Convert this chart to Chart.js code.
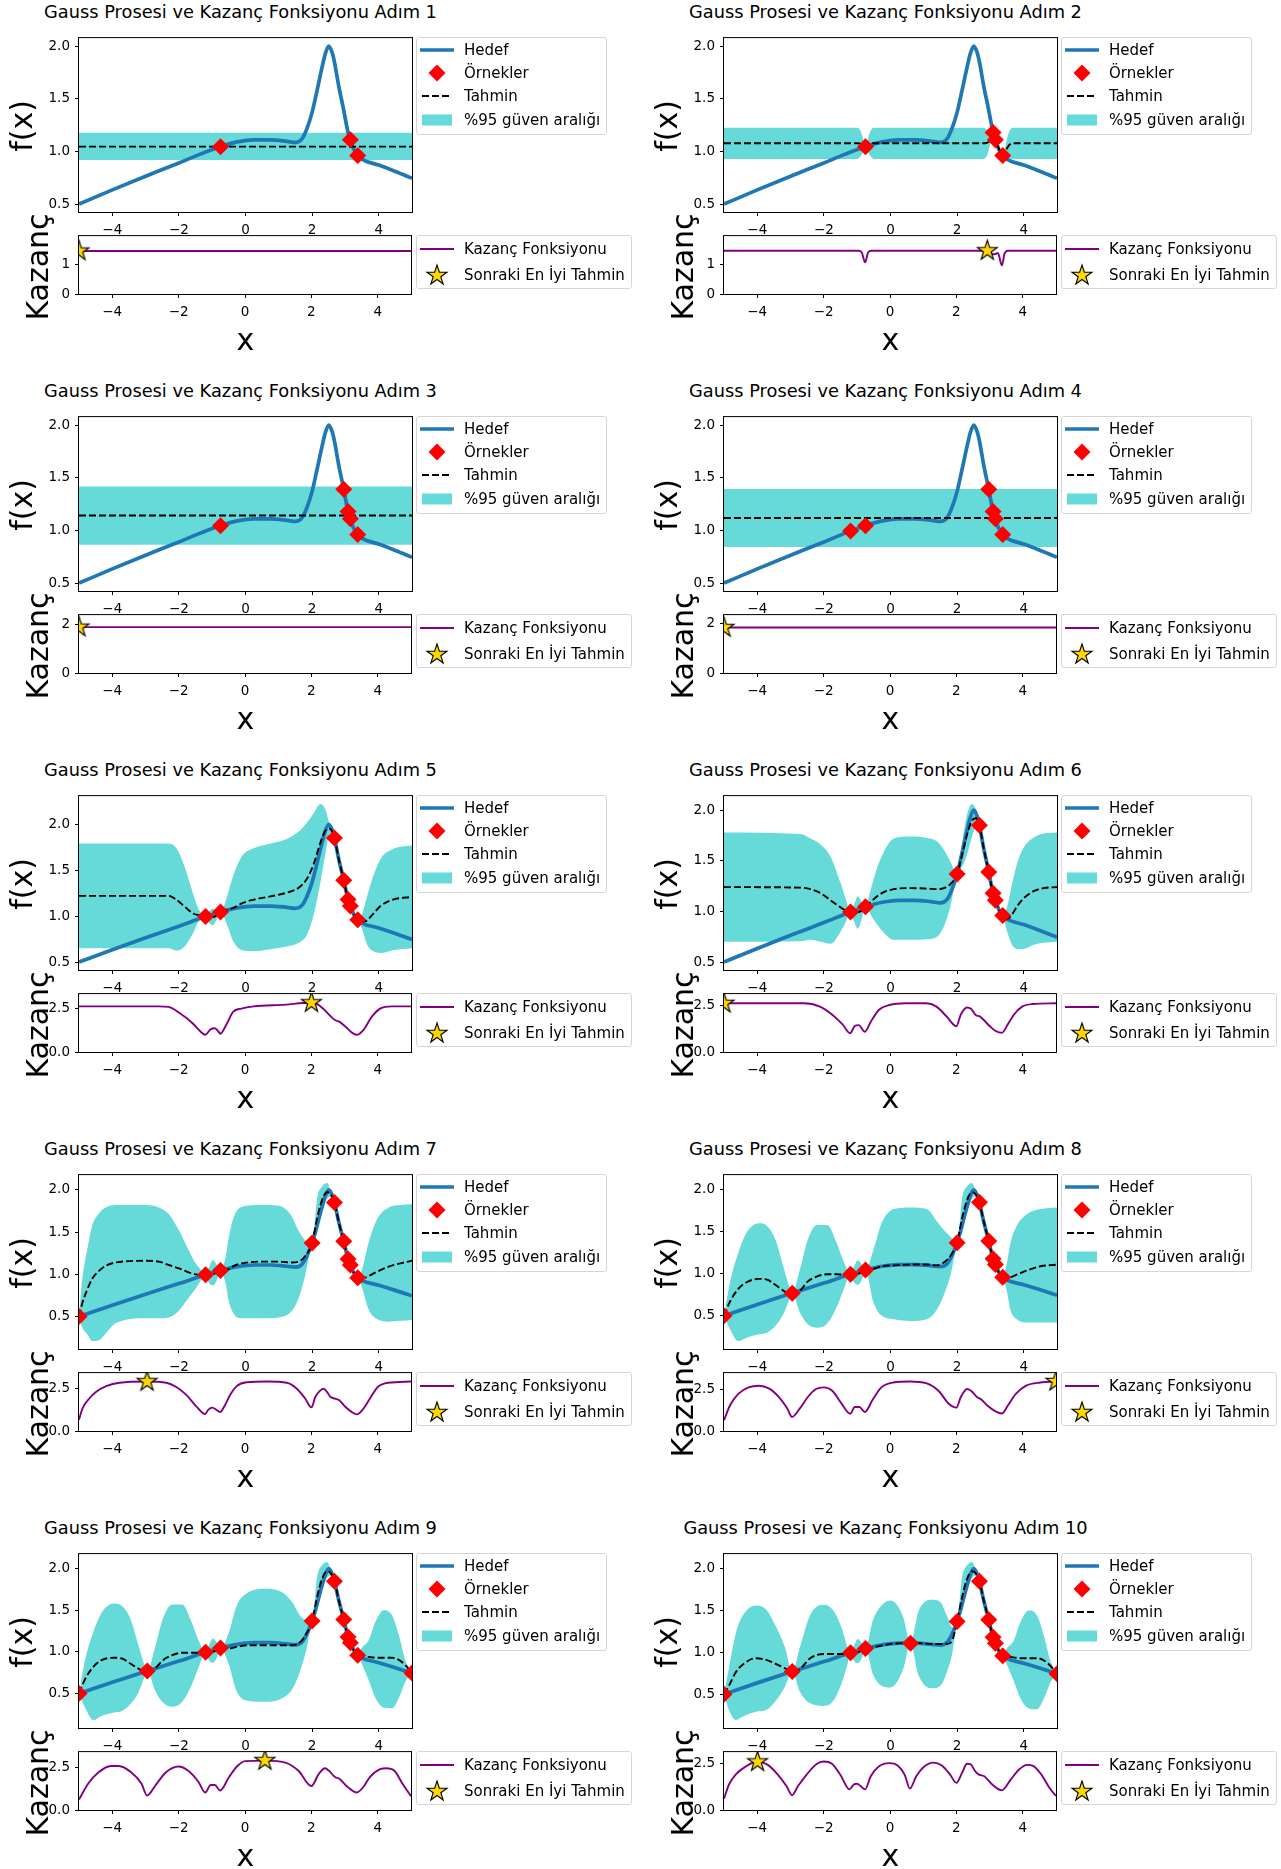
<!DOCTYPE html>
<html lang="tr">
<head>
<meta charset="utf-8">
<title>Gauss Prosesi ve Kazanç Fonksiyonu</title>
<script src="https://cdn.jsdelivr.net/npm/chart.js@4.4.1/dist/chart.umd.min.js"></script>
<style>
  html, body { margin: 0; padding: 0; background: #fff; }
  body { width: 1281px; height: 1869px; position: relative; overflow: hidden; font-family: "DejaVu Sans", sans-serif; color: #000; }
  canvas { position: absolute; }
  .title { position: absolute; width: 520px; height: 24px; line-height: 24px; text-align: center; font-size: 17.8px; white-space: nowrap; }
  .axlabel { position: absolute; font-size: 30px; line-height: 30px; white-space: nowrap; }
  .rot { transform: translate(-50%, -50%) rotate(-90deg); }
  .legend { position: absolute; border: 1px solid #d6d6d6; border-radius: 3px; background: rgba(255,255,255,0.8); font-size: 15px; padding: 0 6px 0 3px; }
  .legend .row { display: flex; align-items: center; white-space: nowrap; }
  .legend svg { flex: none; margin-right: 10px; }
</style>
</head>
<body>
<script>
const FONT = "DejaVu Sans";
const STEP_NO = [1, 2, 3, 4, 5, 6, 7, 8, 9, 10];

const X_TICKS = [-4, -2, 0, 2, 4];
const X_TICK_LABELS = ["\u22124", "\u22122", "0", "2", "4"];
const F_TICKS = [0.5, 1.0, 1.5, 2.0];
const F_TICK_LABELS = ["0.5", "1.0", "1.5", "2.0"];
const ACQ_TICKS = [[0, 1], [0, 1], [0, 2], [0, 2], [0, 2.5], [0, 2.5], [0, 2.5], [0, 2.5], [0, 2.5], [0, 2.5]];
const ACQ_TICK_LABELS = [["0", "1"], ["0", "1"], ["0", "2"], ["0", "2"], ["0.0", "2.5"], ["0.0", "2.5"], ["0.0", "2.5"], ["0.0", "2.5"], ["0.0", "2.5"], ["0.0", "2.5"]];

// Hedef (target function), same in every step
const TARGET_X = [-5, -4, -3, -2, -1.2, -0.75, -0.25, 0.25, 0.75, 1.25, 1.5, 1.7, 1.85, 2.0, 2.15, 2.3, 2.4, 2.5, 2.6, 2.67, 2.8, 2.95, 3.08, 3.15, 3.25, 3.37, 3.5, 4.0, 4.5, 5.0];
const TARGET_Y = [0.50, 0.635, 0.765, 0.89, 0.995, 1.045, 1.09, 1.11, 1.11, 1.095, 1.085, 1.12, 1.22, 1.37, 1.58, 1.80, 1.93, 2.0, 1.94, 1.85, 1.62, 1.39, 1.18, 1.11, 1.02, 0.96, 0.925, 0.87, 0.81, 0.745];

// Örnekler per step
const SAMPLE_X = [
  [-0.75, 3.15, 3.37],
  [-0.75, 3.08, 3.15, 3.37],
  [-0.75, 2.95, 3.08, 3.15, 3.37],
  [-1.2, -0.75, 2.95, 3.08, 3.15, 3.37],
  [-1.2, -0.75, 2.67, 2.95, 3.08, 3.15, 3.37],
  [-1.2, -0.75, 2.0, 2.67, 2.95, 3.08, 3.15, 3.37],
  [-5, -1.2, -0.75, 2.0, 2.67, 2.95, 3.08, 3.15, 3.37],
  [-5, -2.95, -1.2, -0.75, 2.0, 2.67, 2.95, 3.08, 3.15, 3.37],
  [-5, -2.95, -1.2, -0.75, 2.0, 2.67, 2.95, 3.08, 3.15, 3.37, 5],
  [-5, -2.95, -1.2, -0.75, 0.6, 2.0, 2.67, 2.95, 3.08, 3.15, 3.37, 5]
];
const SAMPLE_Y = [
  [1.045, 1.11, 0.96],
  [1.045, 1.18, 1.11, 0.96],
  [1.045, 1.39, 1.18, 1.11, 0.96],
  [0.995, 1.045, 1.39, 1.18, 1.11, 0.96],
  [0.995, 1.045, 1.85, 1.39, 1.18, 1.11, 0.96],
  [0.995, 1.045, 1.37, 1.85, 1.39, 1.18, 1.11, 0.96],
  [0.5, 0.995, 1.045, 1.37, 1.85, 1.39, 1.18, 1.11, 0.96],
  [0.5, 0.77, 0.995, 1.045, 1.37, 1.85, 1.39, 1.18, 1.11, 0.96],
  [0.5, 0.77, 0.995, 1.045, 1.37, 1.85, 1.39, 1.18, 1.11, 0.96, 0.745],
  [0.5, 0.77, 0.995, 1.045, 1.11, 1.37, 1.85, 1.39, 1.18, 1.11, 0.96, 0.745]
];

// Gauss prosesi: x grid, Tahmin (mean), %95 band upper / lower
const GP_X = [
  [-5, 5],
  [-5, -1.0, -0.9, -0.82, -0.75, -0.68, -0.6, -0.5, 2.75, 2.88, 2.97, 3.03, 3.08, 3.15, 3.25, 3.37, 3.44, 3.5, 3.58, 3.7, 5],
  [-5, 5],
  [-5, 5],
  [-5, -2.6, -2.3, -2.08, -1.83, -1.58, -1.4, -1.2, -1.1, -0.98, -0.86, -0.75, -0.55, -0.36, -0.11, 0.26, 0.75, 1.24, 1.6, 1.85, 2.05, 2.25, 2.4, 2.53, 2.67, 2.8, 2.95, 3.08, 3.15, 3.25, 3.37, 3.5, 3.64, 3.82, 4.07, 4.43, 5],
  [-5, -2.7, -2.4, -2.1, -1.8, -1.5, -1.35, -1.2, -1.1, -0.98, -0.86, -0.75, -0.6, -0.4, -0.2, 0.1, 0.6, 1.1, 1.4, 1.6, 1.8, 2.0, 2.15, 2.3, 2.45, 2.57, 2.67, 2.8, 2.95, 3.08, 3.15, 3.25, 3.37, 3.5, 3.65, 3.8, 4.0, 4.3, 4.6, 5],
  [-5, -4.9, -4.75, -4.6, -4.4, -4.2, -3.9, -3.0, -2.6, -2.3, -2.0, -1.75, -1.5, -1.35, -1.2, -1.1, -0.98, -0.86, -0.75, -0.6, -0.5, -0.35, -0.1, 0.45, 1.0, 1.35, 1.6, 1.8, 2.0, 2.15, 2.3, 2.45, 2.57, 2.67, 2.8, 2.95, 3.08, 3.15, 3.25, 3.37, 3.5, 3.7, 3.95, 4.3, 4.65, 5],
  [-5, -4.82, -4.57, -4.32, -3.95, -3.71, -3.46, -3.22, -3.05, -2.95, -2.72, -2.48, -2.2, -1.9, -1.62, -1.4, -1.2, -1.1, -0.98, -0.86, -0.75, -0.51, -0.26, 0.1, 0.6, 1.09, 1.4, 1.65, 1.83, 2.0, 2.15, 2.3, 2.45, 2.57, 2.67, 2.8, 2.95, 3.08, 3.15, 3.25, 3.37, 3.49, 3.61, 3.79, 4.1, 4.5, 5],
  [-5, -4.82, -4.57, -4.32, -3.95, -3.71, -3.46, -3.22, -3.05, -2.95, -2.72, -2.48, -2.2, -1.9, -1.62, -1.4, -1.2, -1.1, -0.98, -0.86, -0.75, -0.51, -0.26, 0.1, 0.6, 1.09, 1.4, 1.65, 1.83, 2.0, 2.15, 2.3, 2.45, 2.57, 2.67, 2.8, 2.95, 3.08, 3.15, 3.25, 3.37, 3.5, 3.7, 3.9, 4.15, 4.4, 4.62, 4.8, 5],
  [-5, -4.85, -4.65, -4.45, -4.04, -3.73, -3.43, -3.17, -2.95, -2.72, -2.41, -2.0, -1.7, -1.44, -1.29, -1.2, -1.1, -0.98, -0.86, -0.75, -0.53, -0.27, 0.0, 0.18, 0.39, 0.6, 0.84, 1.25, 1.5, 1.7, 1.86, 2.0, 2.15, 2.3, 2.45, 2.57, 2.67, 2.8, 2.95, 3.08, 3.15, 3.25, 3.37, 3.5, 3.7, 3.9, 4.15, 4.4, 4.62, 4.8, 5]
];
const GP_MEAN = [
  [1.045, 1.045],
  [1.077, 1.077, 1.074, 1.06, 1.045, 1.06, 1.074, 1.077, 1.077, 1.08, 1.10, 1.14, 1.18, 1.11, 1.03, 0.96, 0.99, 1.03, 1.065, 1.077, 1.077],
  [1.141, 1.141],
  [1.118, 1.118],
  [1.22, 1.22, 1.22, 1.18, 1.105, 1.03, 1.01, 0.995, 0.99, 0.99, 1.01, 1.045, 1.07, 1.09, 1.14, 1.18, 1.215, 1.255, 1.31, 1.41, 1.57, 1.80, 1.93, 1.95, 1.85, 1.62, 1.39, 1.18, 1.11, 1.02, 0.96, 0.94, 0.95, 1.02, 1.115, 1.18, 1.21],
  [1.24, 1.235, 1.22, 1.18, 1.11, 1.04, 1.01, 0.995, 0.985, 0.99, 1.01, 1.045, 1.09, 1.15, 1.19, 1.22, 1.23, 1.225, 1.22, 1.23, 1.27, 1.37, 1.56, 1.76, 1.90, 1.92, 1.85, 1.62, 1.39, 1.18, 1.11, 1.02, 0.96, 0.925, 0.97, 1.05, 1.13, 1.20, 1.23, 1.24],
  [0.5, 0.66, 0.82, 0.95, 1.04, 1.10, 1.14, 1.16, 1.15, 1.11, 1.07, 1.03, 1.0, 0.99, 0.995, 0.99, 1.0, 1.02, 1.045, 1.05, 1.06, 1.10, 1.13, 1.15, 1.15, 1.14, 1.15, 1.22, 1.37, 1.66, 1.88, 1.97, 1.94, 1.85, 1.62, 1.39, 1.18, 1.11, 1.02, 0.96, 0.95, 0.98, 1.03, 1.09, 1.13, 1.16],
  [0.5, 0.67, 0.82, 0.90, 0.94, 0.93, 0.87, 0.80, 0.77, 0.77, 0.80, 0.91, 0.97, 0.995, 0.995, 0.99, 0.995, 0.99, 1.0, 1.02, 1.045, 1.06, 1.09, 1.10, 1.11, 1.11, 1.10, 1.15, 1.23, 1.37, 1.66, 1.88, 1.97, 1.94, 1.85, 1.62, 1.39, 1.18, 1.11, 1.02, 0.96, 0.95, 0.96, 0.99, 1.04, 1.09, 1.11],
  [0.5, 0.67, 0.82, 0.90, 0.93, 0.92, 0.86, 0.80, 0.77, 0.77, 0.80, 0.90, 0.96, 0.99, 0.99, 0.99, 0.995, 0.99, 1.0, 1.02, 1.045, 1.04, 1.06, 1.08, 1.08, 1.08, 1.08, 1.12, 1.22, 1.37, 1.66, 1.88, 1.97, 1.94, 1.85, 1.62, 1.39, 1.18, 1.11, 1.02, 0.96, 0.95, 0.94, 0.93, 0.93, 0.93, 0.90, 0.84, 0.745],
  [0.5, 0.60, 0.76, 0.85, 0.93, 0.91, 0.86, 0.81, 0.77, 0.80, 0.93, 0.98, 0.98, 0.98, 0.99, 0.995, 0.99, 1.0, 1.02, 1.045, 1.06, 1.08, 1.10, 1.105, 1.11, 1.11, 1.11, 1.10, 1.10, 1.10, 1.15, 1.37, 1.66, 1.88, 1.97, 1.94, 1.85, 1.62, 1.39, 1.18, 1.11, 1.02, 0.96, 0.95, 0.94, 0.93, 0.93, 0.93, 0.90, 0.84, 0.745]
];
const GP_HI = [
  [1.177, 1.177],
  [1.225, 1.225, 1.194, 1.12, 1.045, 1.12, 1.194, 1.225, 1.225, 1.21, 1.16, 1.15, 1.18, 1.11, 1.04, 0.96, 1.03, 1.12, 1.20, 1.225, 1.225],
  [1.417, 1.417],
  [1.392, 1.392],
  [1.79, 1.79, 1.79, 1.74, 1.54, 1.25, 1.07, 0.995, 1.05, 1.08, 1.05, 1.045, 1.22, 1.45, 1.65, 1.74, 1.79, 1.84, 1.92, 2.02, 2.12, 2.22, 2.16, 1.99, 1.85, 1.64, 1.39, 1.18, 1.11, 1.04, 0.96, 1.02, 1.20, 1.42, 1.63, 1.73, 1.77],
  [1.78, 1.765, 1.72, 1.66, 1.54, 1.28, 1.13, 0.995, 1.065, 1.15, 1.09, 1.045, 1.21, 1.43, 1.59, 1.72, 1.74, 1.725, 1.69, 1.61, 1.49, 1.37, 1.68, 1.96, 2.06, 2.0, 1.85, 1.65, 1.39, 1.18, 1.11, 1.04, 0.96, 1.045, 1.27, 1.47, 1.63, 1.73, 1.77, 1.78],
  [0.5, 0.95, 1.30, 1.58, 1.72, 1.79, 1.82, 1.82, 1.79, 1.71, 1.52, 1.32, 1.13, 1.06, 0.995, 1.08, 1.17, 1.11, 1.045, 1.20, 1.44, 1.68, 1.80, 1.82, 1.81, 1.71, 1.51, 1.40, 1.37, 1.90, 2.04, 2.08, 1.97, 1.85, 1.65, 1.39, 1.18, 1.11, 1.04, 0.96, 1.06, 1.38, 1.65, 1.79, 1.82, 1.83],
  [0.5, 0.90, 1.25, 1.49, 1.60, 1.57, 1.41, 1.09, 0.86, 0.77, 1.05, 1.41, 1.58, 1.58, 1.37, 1.14, 0.995, 1.08, 1.16, 1.11, 1.045, 1.29, 1.61, 1.77, 1.79, 1.77, 1.62, 1.50, 1.43, 1.37, 1.90, 2.04, 2.08, 1.97, 1.85, 1.65, 1.39, 1.18, 1.11, 1.04, 0.96, 1.12, 1.38, 1.57, 1.71, 1.77, 1.79],
  [0.5, 0.90, 1.24, 1.47, 1.58, 1.55, 1.40, 1.09, 0.86, 0.77, 1.05, 1.40, 1.57, 1.57, 1.36, 1.13, 0.995, 1.08, 1.16, 1.11, 1.045, 1.22, 1.56, 1.72, 1.76, 1.72, 1.60, 1.43, 1.38, 1.37, 1.90, 2.04, 2.08, 1.97, 1.85, 1.65, 1.39, 1.18, 1.11, 1.04, 0.96, 1.05, 1.14, 1.36, 1.50, 1.44, 1.18, 0.90, 0.745],
  [0.5, 0.82, 1.22, 1.43, 1.56, 1.51, 1.30, 1.06, 0.77, 1.06, 1.45, 1.57, 1.49, 1.26, 1.06, 0.995, 1.08, 1.16, 1.11, 1.045, 1.38, 1.56, 1.62, 1.575, 1.41, 1.11, 1.49, 1.63, 1.60, 1.43, 1.30, 1.37, 1.90, 2.04, 2.08, 1.97, 1.85, 1.65, 1.39, 1.18, 1.11, 1.04, 0.96, 1.05, 1.14, 1.36, 1.50, 1.44, 1.18, 0.90, 0.745]
];
const GP_LO = [
  [0.918, 0.918],
  [0.929, 0.929, 0.954, 1.00, 1.045, 1.00, 0.954, 0.929, 0.929, 0.95, 1.04, 1.13, 1.18, 1.11, 1.02, 0.96, 0.95, 0.94, 0.93, 0.929, 0.929],
  [0.865, 0.865],
  [0.843, 0.843],
  [0.65, 0.65, 0.65, 0.625, 0.67, 0.81, 0.95, 0.995, 0.93, 0.90, 0.97, 1.045, 0.90, 0.72, 0.63, 0.62, 0.64, 0.67, 0.71, 0.80, 1.02, 1.37, 1.68, 1.90, 1.85, 1.60, 1.39, 1.18, 1.11, 1.00, 0.96, 0.86, 0.70, 0.62, 0.60, 0.63, 0.65],
  [0.70, 0.705, 0.72, 0.70, 0.68, 0.80, 0.89, 0.995, 0.905, 0.83, 0.93, 1.045, 0.97, 0.87, 0.79, 0.72, 0.72, 0.725, 0.75, 0.85, 1.05, 1.37, 1.44, 1.56, 1.74, 1.84, 1.85, 1.59, 1.39, 1.18, 1.11, 1.00, 0.96, 0.805, 0.67, 0.63, 0.63, 0.67, 0.69, 0.70],
  [0.5, 0.37, 0.29, 0.21, 0.22, 0.30, 0.42, 0.48, 0.48, 0.49, 0.57, 0.70, 0.83, 0.92, 0.995, 0.90, 0.87, 0.93, 1.045, 0.90, 0.68, 0.53, 0.48, 0.48, 0.49, 0.55, 0.72, 1.00, 1.37, 1.48, 1.74, 1.89, 1.92, 1.85, 1.59, 1.39, 1.18, 1.11, 1.00, 0.96, 0.84, 0.58, 0.47, 0.44, 0.45, 0.46],
  [0.5, 0.34, 0.20, 0.24, 0.28, 0.30, 0.38, 0.52, 0.68, 0.77, 0.54, 0.40, 0.36, 0.41, 0.60, 0.82, 0.995, 0.90, 0.87, 0.93, 1.045, 0.66, 0.50, 0.46, 0.44, 0.46, 0.58, 0.80, 1.03, 1.37, 1.48, 1.74, 1.89, 1.92, 1.85, 1.59, 1.39, 1.18, 1.11, 1.00, 0.96, 0.80, 0.56, 0.46, 0.42, 0.42, 0.42],
  [0.5, 0.33, 0.18, 0.23, 0.27, 0.29, 0.37, 0.51, 0.68, 0.77, 0.54, 0.39, 0.34, 0.40, 0.60, 0.82, 0.995, 0.90, 0.87, 0.93, 1.045, 0.86, 0.52, 0.41, 0.40, 0.44, 0.55, 0.78, 1.03, 1.37, 1.48, 1.74, 1.89, 1.92, 1.85, 1.59, 1.39, 1.18, 1.11, 1.00, 0.96, 0.85, 0.66, 0.45, 0.33, 0.32, 0.46, 0.64, 0.745],
  [0.5, 0.31, 0.19, 0.23, 0.29, 0.31, 0.43, 0.59, 0.77, 0.53, 0.39, 0.36, 0.43, 0.66, 0.86, 0.995, 0.90, 0.87, 0.93, 1.045, 0.74, 0.60, 0.58, 0.635, 0.81, 1.11, 0.73, 0.57, 0.60, 0.77, 1.0, 1.37, 1.48, 1.74, 1.89, 1.92, 1.85, 1.59, 1.39, 1.18, 1.11, 1.00, 0.96, 0.85, 0.66, 0.45, 0.33, 0.32, 0.46, 0.64, 0.745]
];

// Kazanç fonksiyonu per step
const ACQ_X = [
  [-5, 5],
  [-5, -0.95, -0.85, -0.75, -0.66, -0.56, 2.93, 3.02, 3.08, 3.15, 3.25, 3.37, 3.45, 3.55, 5],
  [-5, 5],
  [-5, 5],
  [-5, -2.6, -2.3, -1.95, -1.58, -1.34, -1.2, -1.03, -0.91, -0.8, -0.75, -0.54, -0.36, -0.11, 0.26, 1.24, 1.73, 2.0, 2.2, 2.35, 2.59, 2.71, 2.84, 3.02, 3.21, 3.37, 3.57, 3.82, 4.07, 4.43, 5],
  [-5, -2.6, -2.11, -1.74, -1.43, -1.2, -1.06, -0.94, -0.76, -0.57, -0.33, -0.02, 0.47, 1.09, 1.4, 1.7, 2.0, 2.13, 2.32, 2.44, 2.59, 2.69, 2.81, 3.0, 3.18, 3.37, 3.55, 3.73, 3.98, 4.29, 5],
  [-5, -4.89, -4.69, -4.49, -4.18, -3.78, -2.95, -2.37, -2.07, -1.76, -1.46, -1.2, -1.11, -0.98, -0.86, -0.75, -0.6, -0.45, -0.25, 0.05, 0.66, 1.26, 1.56, 1.81, 2.0, 2.12, 2.27, 2.37, 2.47, 2.57, 2.71, 2.84, 3.02, 3.21, 3.37, 3.57, 3.76, 4.0, 4.31, 5],
  [-5, -4.82, -4.57, -4.26, -3.95, -3.65, -3.34, -3.09, -2.95, -2.72, -2.48, -2.23, -1.99, -1.74, -1.49, -1.2, -1.06, -0.92, -0.76, -0.51, -0.26, 0.1, 0.6, 1.09, 1.46, 1.77, 2.0, 2.13, 2.32, 2.44, 2.63, 2.75, 2.93, 3.18, 3.37, 3.55, 3.79, 4.1, 4.53, 5],
  [-5, -4.72, -4.41, -4.04, -3.8, -3.43, -3.12, -2.95, -2.69, -2.38, -2.01, -1.71, -1.4, -1.2, -1.03, -0.91, -0.75, -0.48, -0.23, 0.01, 0.6, 1.24, 1.61, 2.0, 2.22, 2.41, 2.53, 2.71, 2.84, 3.08, 3.37, 3.57, 3.76, 4.07, 4.25, 4.5, 4.74, 5],
  [-5, -4.85, -4.65, -4.34, -3.99, -3.68, -3.38, -3.12, -2.95, -2.77, -2.51, -2.21, -2.0, -1.75, -1.5, -1.22, -1.09, -0.99, -0.89, -0.75, -0.58, -0.33, -0.02, 0.23, 0.44, 0.6, 0.79, 1.0, 1.3, 1.56, 1.81, 2.0, 2.17, 2.32, 2.42, 2.57, 2.68, 2.84, 3.08, 3.37, 3.64, 3.88, 4.13, 4.31, 4.56, 4.8, 5]
];
const ACQ_Y = [
  [1.435, 1.435],
  [1.48, 1.48, 1.42, 1.08, 1.42, 1.48, 1.48, 1.45, 1.36, 1.36, 1.40, 0.98, 1.38, 1.48, 1.48],
  [1.906, 1.906],
  [1.83, 1.83],
  [2.65, 2.65, 2.62, 2.23, 1.67, 1.19, 1.0, 1.33, 1.38, 1.19, 1.06, 1.67, 2.33, 2.52, 2.65, 2.75, 2.84, 2.86, 2.75, 2.52, 2.05, 1.86, 1.76, 1.48, 1.14, 1.0, 1.29, 2.05, 2.52, 2.65, 2.65],
  [2.64, 2.64, 2.46, 2.02, 1.5, 1.02, 1.41, 1.46, 1.1, 1.67, 2.29, 2.55, 2.64, 2.64, 2.46, 1.94, 1.40, 2.02, 2.41, 2.34, 1.99, 1.94, 1.76, 1.41, 1.14, 1.04, 1.5, 2.02, 2.46, 2.6, 2.64],
  [0.67, 1.35, 1.92, 2.31, 2.65, 2.85, 2.92, 2.85, 2.6, 2.12, 1.44, 1.0, 1.25, 1.38, 1.25, 1.12, 1.54, 2.12, 2.65, 2.88, 2.92, 2.85, 2.5, 1.92, 1.40, 2.02, 2.40, 2.5, 2.31, 2.02, 1.91, 1.82, 1.43, 1.13, 0.98, 1.33, 1.91, 2.6, 2.85, 2.92],
  [0.64, 1.52, 2.21, 2.6, 2.7, 2.54, 2.01, 1.33, 0.84, 1.33, 2.01, 2.5, 2.6, 2.4, 1.72, 1.03, 1.43, 1.43, 1.13, 1.91, 2.6, 2.89, 2.95, 2.85, 2.4, 1.62, 1.39, 2.01, 2.5, 2.4, 2.01, 1.88, 1.52, 1.17, 1.04, 1.52, 2.21, 2.7, 2.89, 2.95],
  [0.62, 1.56, 2.22, 2.59, 2.59, 2.22, 1.56, 0.85, 1.47, 2.22, 2.56, 2.31, 1.65, 1.03, 1.47, 1.47, 1.15, 1.94, 2.59, 2.88, 2.91, 2.78, 2.31, 1.41, 2.12, 2.46, 2.31, 1.94, 1.84, 1.37, 1.03, 1.37, 1.94, 2.41, 2.46, 2.31, 1.56, 0.81],
  [0.6, 1.36, 1.89, 2.33, 2.59, 2.41, 1.89, 1.28, 0.79, 1.28, 1.89, 2.45, 2.59, 2.47, 1.89, 1.10, 1.36, 1.40, 1.28, 1.10, 1.80, 2.33, 2.50, 2.38, 1.89, 1.15, 1.80, 2.27, 2.53, 2.38, 1.89, 1.45, 1.98, 2.47, 2.45, 2.06, 1.89, 1.80, 1.36, 1.05, 1.63, 2.15, 2.41, 2.36, 1.89, 1.19, 0.75]
];

// Sonraki en iyi tahmin (star)
const NEXT_X = [-5, 2.93, -5, -5, 2.0, -5, -2.95, 5, 0.6, -3.99];
const NEXT_Y = [1.435, 1.48, 1.906, 1.83, 2.86, 2.64, 2.92, 2.95, 2.91, 2.57];

// page layout (px)
const COL_LEFT = [79, 724];
const ROW_TOP = [37, 416, 795, 1174, 1553];
const AX_W = 333, TOP_H = 175, BOT_GAP = 198, BOT_H = 59;

const BLUE = "#1f77b4", BAND = "rgba(0,191,191,0.6)", PURPLE = "#800080", GOLD = "#ffd700";

Chart.defaults.font.family = FONT;

const pts = (xs, ys) => xs.map((x, k) => ({ x: x, y: ys[k] }));

function starPath(r, cx, cy) {
  const out = [];
  for (let k = 0; k < 10; k++) {
    const rr = k % 2 ? r * 0.382 : r;
    const a = -Math.PI / 2 + k * Math.PI / 5;
    out.push([cx + rr * Math.cos(a), cy + rr * Math.sin(a)]);
  }
  return out;
}

function starImage(r) {
  const c = document.createElement("canvas");
  const s = Math.ceil(2 * r + 4);
  c.width = s; c.height = s;
  const ctx = c.getContext("2d");
  ctx.beginPath();
  starPath(r, s / 2, s / 2).forEach(p => ctx.lineTo(p[0], p[1]));
  ctx.closePath();
  ctx.fillStyle = GOLD; ctx.fill();
  ctx.lineWidth = 1.1; ctx.strokeStyle = "#000"; ctx.stroke();
  return c;
}
const STAR = starImage(10.5);

const axesFrame = {
  id: "axesFrame",
  beforeDraw(chart) {
    const a = chart.chartArea, ctx = chart.ctx;
    ctx.save();
    ctx.fillStyle = "#fff";
    ctx.fillRect(a.left, a.top, a.right - a.left, a.bottom - a.top);
    ctx.restore();
  },
  afterDraw(chart) {
    const a = chart.chartArea, ctx = chart.ctx;
    ctx.save();
    ctx.strokeStyle = "#000"; ctx.lineWidth = 1;
    ctx.strokeRect(a.left - 0.5, a.top - 0.5, a.right - a.left + 1, a.bottom - a.top + 1);
    ctx.restore();
  }
};

function axis(min, max, values, labels, isX) {
  return {
    type: "linear", min: min, max: max,
    afterBuildTicks: s => { s.ticks = values.map(v => ({ value: v })); },
    ticks: {
      autoSkip: false, maxRotation: 0, padding: isX ? 6 : 5, color: "#000",
      font: { family: FONT, size: 13.5 },
      callback: (v, k) => labels[k]
    },
    grid: { drawOnChartArea: false, drawTicks: true, tickLength: 4, tickWidth: 1, tickColor: "#000" },
    border: { display: false },
    afterFit: s => { if (isX) s.height = 30; else s.width = 60; }
  };
}

function makeCanvas(left, top, w, h) {
  const c = document.createElement("canvas");
  c.width = w; c.height = h;
  c.style.left = left + "px"; c.style.top = top + "px";
  c.style.width = w + "px"; c.style.height = h + "px";
  document.body.appendChild(c);
  return c;
}

function addText(cls, text, css) {
  const d = document.createElement("div");
  d.className = cls;
  d.textContent = text;
  Object.assign(d.style, css);
  document.body.appendChild(d);
}

const H_LINE = (color, w) => `<svg width="34" height="20"><line x1="0" y1="10" x2="34" y2="10" stroke="${color}" stroke-width="${w}"/></svg>`;
const H_DIAMOND = `<svg width="34" height="20"><polygon points="17,1.5 25.5,10 17,18.5 8.5,10" fill="red"/></svg>`;
const H_DASH = `<svg width="34" height="20"><line x1="2" y1="10" x2="32" y2="10" stroke="#000" stroke-width="1.9" stroke-dasharray="7 3"/></svg>`;
const H_PATCH = `<svg width="34" height="20"><rect x="2" y="4.5" width="30" height="11" fill="${BAND}"/></svg>`;
const H_STAR = `<svg width="34" height="24"><polygon points="${starPath(10.5, 17, 12.5).map(p => p[0].toFixed(2) + "," + p[1].toFixed(2)).join(" ")}" fill="${GOLD}" stroke="#000" stroke-width="1.1"/></svg>`;

function legendBox(left, top, rowH, padBottom, items) {
  const box = document.createElement("div");
  box.className = "legend";
  box.style.left = left + "px"; box.style.top = top + "px";
  box.style.paddingBottom = padBottom + "px";
  items.forEach(it => {
    const row = document.createElement("div");
    row.className = "row";
    row.style.height = rowH + "px";
    row.innerHTML = it[0] + "<span>" + it[1] + "</span>";
    box.appendChild(row);
  });
  document.body.appendChild(box);
}

function drawStep(i) {
  const col = i % 2, row = Math.floor(i / 2);
  const axL = COL_LEFT[col], axT = ROW_TOP[row], bT = axT + BOT_GAP;

  const allY = TARGET_Y.concat(GP_HI[i], GP_LO[i], GP_MEAN[i], SAMPLE_Y[i]);
  const yLo = Math.min(...allY), yHi = Math.max(...allY), pad = (yHi - yLo) * 0.05;

  const top = makeCanvas(axL - 60, axT - 12, 60 + AX_W + 10, 12 + TOP_H + 30);
  new Chart(top, {
    type: "line",
    data: {
      datasets: [
        { label: "Örnekler", data: pts(SAMPLE_X[i], SAMPLE_Y[i]), showLine: false, pointStyle: "rectRot",
          pointRadius: 8.5, pointBackgroundColor: "red", pointBorderWidth: 0, borderColor: "red", clip: 0 },
        { label: "Tahmin", data: pts(GP_X[i], GP_MEAN[i]), borderColor: "#000", borderWidth: 1.9, borderDash: [7, 3],
          pointRadius: 0, cubicInterpolationMode: "monotone", fill: false, clip: 0 },
        { label: "Hedef", data: pts(TARGET_X, TARGET_Y), borderColor: BLUE, borderWidth: 3.7,
          pointRadius: 0, cubicInterpolationMode: "monotone", fill: false, clip: 0 },
        { label: "%95 güven aralığı", data: pts(GP_X[i], GP_HI[i]), borderColor: "transparent", borderWidth: 0,
          pointRadius: 0, cubicInterpolationMode: "monotone", fill: "+1", backgroundColor: BAND, clip: 0 },
        { label: "alt", data: pts(GP_X[i], GP_LO[i]), borderColor: "transparent", borderWidth: 0,
          pointRadius: 0, cubicInterpolationMode: "monotone", fill: false, clip: 0 }
      ]
    },
    options: {
      responsive: false, animation: false, devicePixelRatio: 1, events: [],
      layout: { padding: { left: 0, top: 12, right: 10, bottom: 0 } },
      scales: {
        x: axis(-5, 5, X_TICKS, X_TICK_LABELS, true),
        y: axis(yLo - pad, yHi + pad, F_TICKS, F_TICK_LABELS, false)
      },
      plugins: { legend: { display: false }, tooltip: { enabled: false } }
    },
    plugins: [axesFrame]
  });

  const acqTop = Math.max(...ACQ_Y[i]) + 0.5;
  const bot = makeCanvas(axL - 60, bT - 12, 60 + AX_W + 10, 12 + BOT_H + 30);
  new Chart(bot, {
    type: "line",
    data: {
      datasets: [
        { label: "Sonraki En İyi Tahmin", data: [{ x: NEXT_X[i], y: NEXT_Y[i] }], showLine: false,
          pointStyle: STAR, pointRadius: 10, clip: 0 },
        { label: "Kazanç Fonksiyonu", data: pts(ACQ_X[i], ACQ_Y[i]), borderColor: PURPLE, borderWidth: 1.9,
          pointRadius: 0, cubicInterpolationMode: "monotone", fill: false, clip: 0 }
      ]
    },
    options: {
      responsive: false, animation: false, devicePixelRatio: 1, events: [],
      layout: { padding: { left: 0, top: 12, right: 10, bottom: 0 } },
      scales: {
        x: axis(-5, 5, X_TICKS, X_TICK_LABELS, true),
        y: axis(0, acqTop, ACQ_TICKS[i], ACQ_TICK_LABELS[i], false)
      },
      plugins: { legend: { display: false }, tooltip: { enabled: false } }
    },
    plugins: [axesFrame]
  });

  addText("title", "Gauss Prosesi ve Kazanç Fonksiyonu Adım " + STEP_NO[i], { left: (axL + AX_W / 2 - 5 - 260) + "px", top: (axT - 37) + "px" });
  addText("axlabel rot", "f(x)", { left: (axL - 57.5) + "px", top: (axT + 89) + "px" });
  addText("axlabel rot", "Kazanç", { left: (axL - 41) + "px", top: (bT + 32) + "px" });
  addText("axlabel", "x", { left: (axL + AX_W / 2) + "px", top: (axT + 287.5) + "px", transform: "translateX(-50%)" });

  legendBox(axL + AX_W + 4, axT, 23.3, 2.8, [
    [H_LINE(BLUE, 3.7), "Hedef"],
    [H_DIAMOND, "Örnekler"],
    [H_DASH, "Tahmin"],
    [H_PATCH, "%95 güven aralığı"]
  ]);
  legendBox(axL + AX_W + 4, bT, 26, 0, [
    [H_LINE(PURPLE, 1.9), "Kazanç Fonksiyonu"],
    [H_STAR, "Sonraki En İyi Tahmin"]
  ]);
}

STEP_NO.forEach((n, i) => drawStep(i));
</script>
</body>
</html>
